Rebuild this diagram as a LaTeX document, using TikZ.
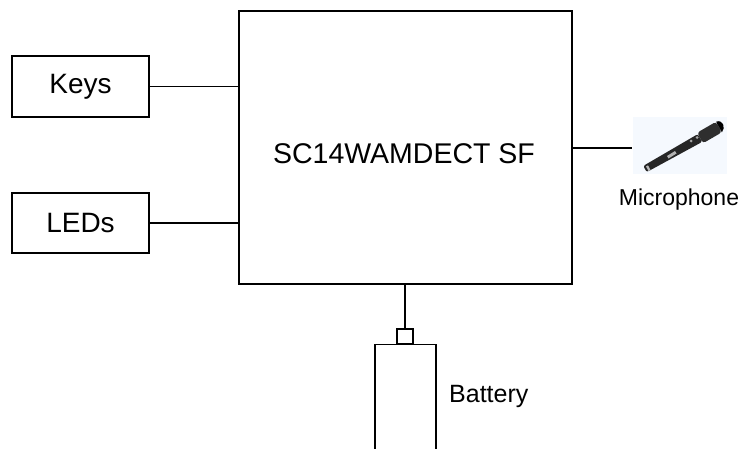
\documentclass[tikz,border=0pt]{standalone}
\usepackage{fontspec}
\setmainfont{Liberation Sans}
\begin{document}
\begin{tikzpicture}[x=1pt,y=-1pt,
  blk/.style={draw=black,line width=1.3pt,fill=white,inner sep=0pt,font=\fontsize{28}{30}\selectfont},
  wire/.style={draw=black,line width=1.3pt},
  lbl/.style={inner sep=0pt,font=\fontsize{23}{26}\selectfont}]
\clip (0,0) rectangle (745,448);
\fill[white] (0,0) rectangle (745,448);
% main block
\node[blk,minimum width=333pt,minimum height=273pt] (main) at (405.5,147.5) {};
\node[lbl,font=\fontsize{28.5}{30}\selectfont] (maintxt) at (404,154) {SC14WAMDECT SF};
% keys and LEDs
\node[blk,minimum width=137pt,minimum height=61pt] (keys) at (80.5,86.5) {Keys};
\node[blk,minimum width=137pt,minimum height=60pt] (leds) at (80.5,223) {LEDs};
\draw[wire] (keys.east) -- (keys.east -| main.west);
\draw[wire] (leds.east) -- (leds.east -| main.west);
% microphone
\node[inner sep=0pt,minimum width=94pt,minimum height=57pt,fill={rgb,255:red,245;green,249;blue,254}] (mic) at (680,145.5) {};
\begin{scope}
  \clip (mic.south west) rectangle (mic.north east);
  \fill[black!85,rounded corners=2pt] (643.3,165.9) -- (697.8,134.1) -- (702.2,141.9) -- (646.7,172.1) -- cycle;
  \fill[black!82,rounded corners=3pt] (697.1,132.7) -- (716.1,121.7) -- (721.9,132.3) -- (702.9,143.3) -- cycle;
  \fill[black] (716.1,121.7) .. controls (723,119) and (726,128) .. (721.9,132.3) -- cycle;
  \fill[gray!60] (667,156) -- (675,151) -- (676.5,153.5) -- (668.5,158.5) -- cycle;
  \fill[gray!70] (691,141) circle (1.5);
  \fill[gray!70] (697,137.5) circle (1.5);
  \fill[gray!55] (646,166.5) -- (648.5,171) -- (650.5,170) -- (648,165.3) -- cycle;
\end{scope}
\coordinate (micin) at (632,148);
\draw[wire] (main.east |- micin) -- (micin);
\node[lbl,anchor=north] (miclbl) at (679,189) {Microphone};
% battery
\node[draw=black,line width=1.3pt,inner sep=0pt,minimum width=16pt,minimum height=15pt] (term) at (405,336.5) {};
\node[draw=black,line width=1.3pt,inner sep=0pt,minimum width=61pt,minimum height=130pt,anchor=north] (bat) at (405.5,344) {};
\draw[wire] (main.south -| term.north) -- (term.north);
\node[lbl,anchor=west,font=\fontsize{25}{28}\selectfont] (batlbl) at (449,396) {Battery};
\end{tikzpicture}
\end{document}
